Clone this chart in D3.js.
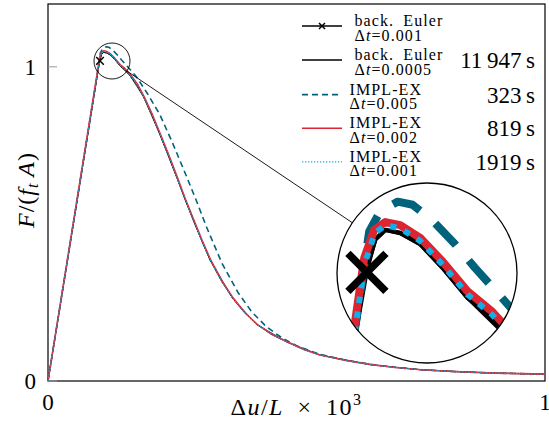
<!DOCTYPE html>
<html>
<head>
<meta charset="utf-8">
<style>
    body { margin: 0; background: white; }
    svg { display: block; font-family: 'Liberation Serif', 'DejaVu Serif', serif; }
    .it { font-style: italic; }
</style>
</head>
<body>
<svg width="549" height="423"></svg>

<script src="https://d3js.org/d3.v7.min.js"></script>
<script>
    // --- data: [Δu/L ×10^3, F/(ft A)] ---
    let eulerFine = [[0,0],[0.1,0.98],[0.104,1.02],[0.108,1.04],[0.112,1.046],[0.118,1.044],[0.126,1.037],[0.135,1.022],[0.145,1.003],[0.155,0.99],[0.165,0.972],[0.18,0.94],[0.192,0.905],[0.208,0.85],[0.225,0.785],[0.242,0.718],[0.259,0.648],[0.275,0.58],[0.292,0.513],[0.309,0.447],[0.326,0.385],[0.35,0.315],[0.372,0.262],[0.395,0.218],[0.42,0.18],[0.45,0.148],[0.481,0.124],[0.515,0.10],[0.547,0.083],[0.6,0.065],[0.65,0.052],[0.7,0.043],[0.75,0.036],[0.815,0.030],[0.9,0.025],[1.0,0.022]]
    let eulerCoarse = [[0,0],[0.1,0.979],[0.1046,1.02],[0.108,1.04],[0.112,1.046],[0.118,1.044],[0.126,1.037],[0.135,1.022],[0.145,1.003],[0.165,0.972],[0.192,0.905],[0.225,0.785],[0.259,0.648],[0.292,0.513],[0.326,0.385],[0.372,0.262],[0.42,0.18],[0.481,0.124],[0.547,0.083],[0.65,0.052],[0.75,0.036],[0.9,0.025],[1.0,0.022]]
    let implex005 = [[0,0],[0.1,0.985],[0.1055,1.045],[0.11,1.058],[0.117,1.064],[0.123,1.062],[0.131,1.052],[0.14,1.037],[0.148,1.022],[0.156,1.008],[0.166,0.99],[0.178,0.968],[0.2,0.915],[0.225,0.848],[0.25,0.76],[0.279,0.65],[0.3,0.568],[0.319,0.49],[0.35,0.375],[0.383,0.28],[0.41,0.22],[0.44,0.172],[0.47,0.138],[0.5,0.112],[0.547,0.085],[0.6,0.066],[0.65,0.053],[0.7,0.043],[0.75,0.036],[0.815,0.030],[0.9,0.025],[1.0,0.022]]
    let implex002 = [[0,0],[0.0995,0.984],[0.1035,1.028],[0.1075,1.046],[0.112,1.051],[0.118,1.049],[0.126,1.041],[0.135,1.026],[0.145,1.007],[0.155,0.994],[0.166,0.975],[0.181,0.942],[0.193,0.906],[0.209,0.851],[0.226,0.786],[0.243,0.719],[0.26,0.649],[0.276,0.581],[0.293,0.514],[0.31,0.448],[0.327,0.386],[0.351,0.316],[0.373,0.263],[0.396,0.218],[0.421,0.18],[0.451,0.148],[0.482,0.124],[0.515,0.10],[0.547,0.083],[0.6,0.065],[0.65,0.052],[0.7,0.043],[0.75,0.036],[0.815,0.030],[0.9,0.025],[1.0,0.022]]
    let implex001 = [[0,0],[0.0998,0.982],[0.1038,1.025],[0.1078,1.044],[0.112,1.049],[0.118,1.047],[0.126,1.039],[0.135,1.024],[0.145,1.005],[0.155,0.992],[0.1655,0.973],[0.1805,0.941],[0.1925,0.905],[0.2085,0.85],[0.2255,0.785],[0.2425,0.718],[0.2595,0.648],[0.2755,0.58],[0.2925,0.513],[0.3095,0.447],[0.3265,0.385],[0.3505,0.315],[0.3725,0.262],[0.3955,0.218],[0.4205,0.18],[0.4505,0.148],[0.4815,0.124],[0.515,0.10],[0.547,0.083],[0.6,0.065],[0.65,0.052],[0.7,0.043],[0.75,0.036],[0.815,0.030],[0.9,0.025],[1.0,0.022]]
    let markerPoint = [0.1046, 1.019]

    let legendNames = ["back. Euler", "back. Euler", "IMPL-EX", "IMPL-EX", "IMPL-EX"]
    let legendSteps = ["0.001", "0.0005", "0.005", "0.002", "0.001"]
    let timings = ["", "11\u2009947\u2009s", "323\u2009s", "819\u2009s", "1919\u2009s"]
    let xTicks = [0, 1]
    let yTicks = [0, 1]

    let svg = d3.select("svg")

    let x = d3.scaleLinear().domain([0, 1]).range([48, 545])
    let y = d3.scaleLinear().domain([0, 1.2]).range([381, 4])

    let line = d3.line().x(d => x(d[0])).y(d => y(d[1]))

    let series = [
        { data: eulerFine, color: "#000", width: 0.9, dash: null },
        { data: eulerCoarse, color: "#000", width: 0.8, dash: null },
        { data: implex005, color: "#00637b", width: 1.6, dash: "6,4" },
        { data: implex002, color: "#dc2530", width: 1.6, dash: null },
        { data: implex001, color: "#11aee8", width: 1.2, dash: "1.3,1.7" }
    ]
    let legendStyle = [series[1], series[0], series[2], series[3], series[4]]

    function drawCurves(g) {
        g.selectAll(".curve")
            .data(series)
            .join("path")
            .attr("class", "curve")
            .attr("d", d => line(d.data))
            .attr("fill", "none")
            .attr("stroke", d => d.color)
            .attr("stroke-width", d => d.width)
            .attr("stroke-dasharray", d => d.dash)
            .attr("stroke-linejoin", "round")

        let mx = x(markerPoint[0]), my = y(markerPoint[1]), s = 3.8
        g.append("path")
            .attr("d", `M${mx - s},${my - s}L${mx + s},${my + s}M${mx - s},${my + s}L${mx + s},${my - s}`)
            .attr("stroke", "#000")
            .attr("stroke-width", 1.5)
    }

    // frame + ticks
    svg.append("rect")
        .attr("x", x(0)).attr("y", y(1.2))
        .attr("width", x(1) - x(0)).attr("height", y(0) - y(1.2))
        .attr("fill", "none").attr("stroke", "#000").attr("stroke-width", 1.2)

    svg.selectAll(".ytick")
        .data(yTicks)
        .join("line")
        .attr("x1", x(0)).attr("x2", x(0) + 9)
        .attr("y1", d => y(d)).attr("y2", d => y(d))
        .attr("stroke", "#999").attr("stroke-width", 1)

    svg.selectAll(".ylab")
        .data(yTicks)
        .join("text")
        .attr("x", x(0) - 12).attr("y", d => y(d) + 8)
        .attr("text-anchor", "end")
        .attr("font-size", 23)
        .text(d => d)

    svg.selectAll(".xlab")
        .data(xTicks)
        .join("text")
        .attr("x", d => x(d)).attr("y", 410)
        .attr("text-anchor", "middle")
        .attr("font-size", 23)
        .text(d => d)

    // axis titles
    let xt = svg.append("text")
        .attr("x", (x(0) + x(1)) / 2).attr("y", 415)
        .attr("text-anchor", "middle").attr("font-size", 24)
        .attr("letter-spacing", 1.5)
    xt.append("tspan").text("Δ")
    xt.append("tspan").attr("class", "it").text("u")
    xt.append("tspan").text("/")
    xt.append("tspan").attr("class", "it").text("L")
    xt.append("tspan").text("\u2002×\u200210")
    xt.append("tspan").attr("font-size", 16).attr("dy", -10).text("3")

    let yt = svg.append("text")
        .attr("transform", "translate(34,190) rotate(-90)")
        .attr("text-anchor", "middle").attr("font-size", 24)
        .attr("letter-spacing", 1)
    yt.append("tspan").attr("class", "it").text("F")
    yt.append("tspan").text("/(")
    yt.append("tspan").attr("class", "it").text("f")
    yt.append("tspan").attr("class", "it").attr("font-size", 16).attr("dy", 4).text("t")
    yt.append("tspan").attr("class", "it").attr("dy", -4).text("\u2009A")
    yt.append("tspan").text(")")

    // main curves
    drawCurves(svg.append("g"))

    // spy: small circle, big magnified circle
    let spy = { cx: 112, cy: 61, r: 18 }
    let big = { cx: 427, cy: 273, r: 90 }
    let mag = big.r / spy.r

    let dx = big.cx - spy.cx, dy = big.cy - spy.cy
    let len = Math.hypot(dx, dy)
    svg.append("line")
        .attr("x1", spy.cx + dx / len * spy.r).attr("y1", spy.cy + dy / len * spy.r)
        .attr("x2", big.cx - dx / len * big.r).attr("y2", big.cy - dy / len * big.r)
        .attr("stroke", "#000").attr("stroke-width", 0.9)

    svg.append("circle")
        .attr("cx", spy.cx).attr("cy", spy.cy).attr("r", spy.r)
        .attr("fill", "none").attr("stroke", "#000").attr("stroke-width", 0.9)

    svg.append("clipPath").attr("id", "spyclip")
        .append("circle").attr("cx", big.cx).attr("cy", big.cy).attr("r", big.r)

    svg.append("circle")
        .attr("cx", big.cx).attr("cy", big.cy).attr("r", big.r)
        .attr("fill", "white")

    let inset = svg.append("g").attr("clip-path", "url(#spyclip)")
        .append("g")
        .attr("transform", `translate(${big.cx},${big.cy}) scale(${mag}) translate(${-spy.cx},${-spy.cy})`)
    drawCurves(inset)

    svg.append("circle")
        .attr("cx", big.cx).attr("cy", big.cy).attr("r", big.r)
        .attr("fill", "none").attr("stroke", "#000").attr("stroke-width", 1.3)

    // legend
    let rowY = [26, 60, 94.6, 128.3, 161.8]
    let leg = svg.append("g")
    legendStyle.forEach((st, i) => {
        let ly = rowY[i]
        leg.append("line")
            .attr("x1", 302).attr("x2", 342).attr("y1", ly).attr("y2", ly)
            .attr("stroke", st.color).attr("stroke-width", st.width < 1.2 ? 1.3 : st.width)
            .attr("stroke-dasharray", st.dash)
        if (i == 0) {
            let s = 3
            leg.append("path")
                .attr("d", `M${322 - s},${ly - s}L${322 + s},${ly + s}M${322 - s},${ly + s}L${322 + s},${ly - s}`)
                .attr("stroke", "#000").attr("stroke-width", 1.5)
        }
        let tx = legendNames[i].startsWith("back") ? 354.5 : 349.5
        leg.append("text")
            .attr("x", tx).attr("y", ly)
            .attr("font-size", 16).attr("letter-spacing", 1.1)
            .text(legendNames[i].replace(". ", ".\u2002"))
        let t2 = leg.append("text")
            .attr("x", tx).attr("y", ly + 14.5)
            .attr("font-size", 16).attr("letter-spacing", 1.1)
        t2.append("tspan").text("Δ")
        t2.append("tspan").attr("class", "it").text("t")
        t2.append("tspan").text("=" + legendSteps[i])
        leg.append("text")
            .attr("x", 535).attr("y", ly + 8)
            .attr("text-anchor", "end")
            .attr("font-size", 23)
            .text(timings[i])
    })
</script>
</body>
</html>
